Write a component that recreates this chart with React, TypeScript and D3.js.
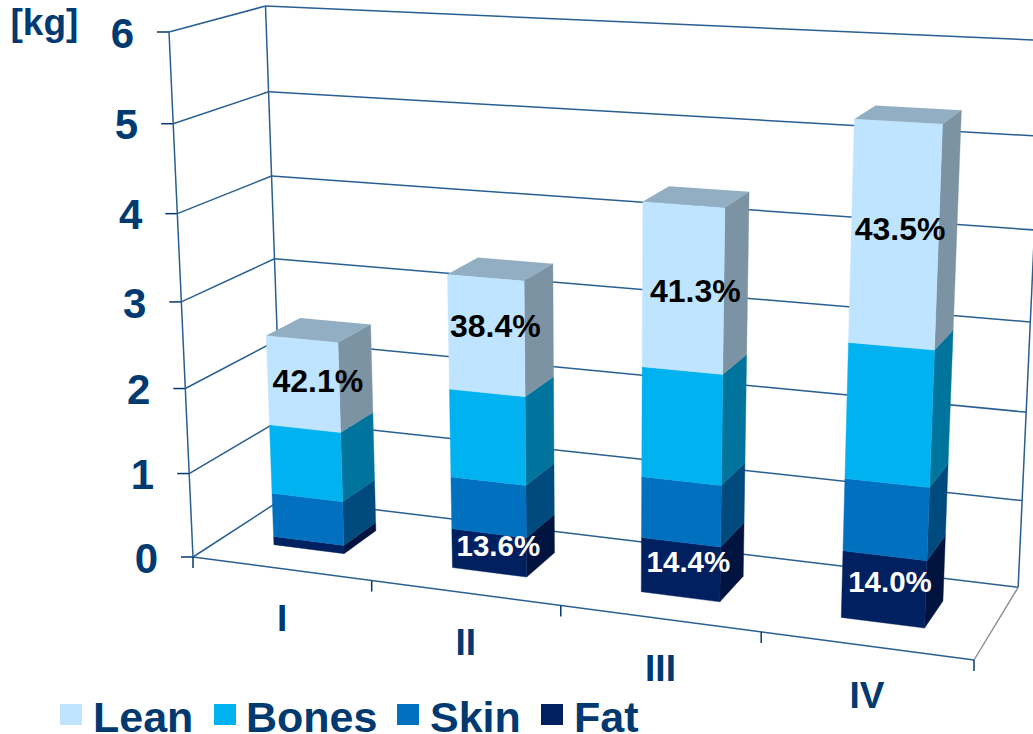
import React from "react";
import * as d3 from "d3";

const categories = ["I", "II", "III", "IV"];
const totalKg = [2.5, 3.39, 4.35, 5.35];
const leanShare = [42.1, 38.4, 41.3, 43.5];
const bonesShare = [32.9, 30.0, 28.3, 27.5];
const skinShare = [21.0, 18.0, 16.0, 15.0];
const fatShare = [4.0, 13.6, 14.4, 14.0];
const valueTicks = [0, 1, 2, 3, 4, 5, 6];
const seriesNames = ["Lean", "Bones", "Skin", "Fat"];

// Stacked from the floor up: fat, skin, bones, lean.
const stackOrder = [
  { name: "Fat", share: fatShare, front: "#002060", side: "#00143f" },
  { name: "Skin", share: skinShare, front: "#0070bf", side: "#004a7e" },
  { name: "Bones", share: bonesShare, front: "#00b2f0", side: "#00749d" },
  { name: "Lean", share: leanShare, front: "#bfe4ff", side: "#7b93a3" },
];
const topFace = "#92aec2";
const legendColors: Record<string, string> = {
  Lean: "#bfe4ff",
  Bones: "#00b2f0",
  Skin: "#0070bf",
  Fat: "#002060",
};

const INK = "#003a70";
const GRID = "#2a5f92";
const FONT = "'Liberation Sans', Arial, sans-serif";

// Box corners on screen and the foreshortening along each box axis.
const origin = [193, 557];
const xEnd = [974, 660];
const yEnd = [169, 32];
const zEnd = [283, 498.5];
const alpha = 0.89;
const beta = 0.945;
const gamma = 1.069;

const xUnit = d3.scaleLinear().domain([0, categories.length]).range([0, 1]);
const yUnit = d3.scaleLinear().domain([0, 6]).range([0, 1]);

type Pt = [number, number];

// Perspective projection of (category position, kg, depth 0..1) to the screen.
function project(cat: number, kg: number, depth: number): Pt {
  const X = xUnit(cat);
  const Y = yUnit(kg);
  const Z = depth;
  const w = (alpha - 1) * X + (beta - 1) * Y + (gamma - 1) * Z + 1;
  const axis = (i: number) =>
    (alpha * xEnd[i] - origin[i]) * X +
    (beta * yEnd[i] - origin[i]) * Y +
    (gamma * zEnd[i] - origin[i]) * Z +
    origin[i];
  return [axis(0) / w, axis(1) / w];
}

const lineGen = d3.line<Pt>();
const poly = (pts: Pt[]) => lineGen(pts) + "Z";

const BAR_INSET = 0.3;
const DEPTH_NEAR = 0.31;
const DEPTH_FAR = 0.69;
const NCATS = categories.length;

function Bars() {
  return (
    <g>
      {categories.map((cat, i) => {
        const x0 = i + BAR_INSET;
        const x1 = i + 1 - BAR_INSET;
        let base = 0;
        const segs = stackOrder.map((s) => {
          const kg = (totalKg[i] * s.share[i]) / 100;
          const seg = { ...s, y0: base, y1: base + kg };
          base += kg;
          return seg;
        });
        return (
          <g key={cat}>
            {segs.map((s) => (
              <g key={s.name}>
                <path
                  d={poly([
                    project(x1, s.y0, DEPTH_NEAR),
                    project(x1, s.y0, DEPTH_FAR),
                    project(x1, s.y1, DEPTH_FAR),
                    project(x1, s.y1, DEPTH_NEAR),
                  ])}
                  fill={s.side}
                  stroke={s.side}
                  strokeWidth={0.4}
                />
                <path
                  d={poly([
                    project(x0, s.y0, DEPTH_NEAR),
                    project(x1, s.y0, DEPTH_NEAR),
                    project(x1, s.y1, DEPTH_NEAR),
                    project(x0, s.y1, DEPTH_NEAR),
                  ])}
                  fill={s.front}
                  stroke={s.front}
                  strokeWidth={0.4}
                />
              </g>
            ))}
            <path
              d={poly([
                project(x0, base, DEPTH_NEAR),
                project(x1, base, DEPTH_NEAR),
                project(x1, base, DEPTH_FAR),
                project(x0, base, DEPTH_FAR),
              ])}
              fill={topFace}
            />
          </g>
        );
      })}
    </g>
  );
}

// Small per-bar shifts that keep each lean label clear of the bar's edges.
const leanNudge: Pt[] = [
  [2, 4],
  [-2, -3],
  [3, 9],
  [-2, 0],
];

// Percentage labels sit near the centre of the segment they describe.
function ShareLabels() {
  const labels: { key: string; pt: Pt; text: string; fill: string; size: number }[] = [];
  categories.forEach((cat, i) => {
    const fat = (totalKg[i] * fatShare[i]) / 100;
    const lean = (totalKg[i] * leanShare[i]) / 100;
    const cx = i + 0.5;
    const p = project(cx, totalKg[i] - lean / 2, 0.45);
    labels.push({
      key: cat + "lean",
      pt: [p[0] + leanNudge[i][0], p[1] + leanNudge[i][1]],
      text: leanShare[i].toFixed(1) + "%",
      fill: "#000000",
      size: 32,
    });
    if (i > 0) {
      labels.push({
        key: cat + "fat",
        pt: project(cx, fat / 2, 0.43),
        text: fatShare[i].toFixed(1) + "%",
        fill: "#ffffff",
        size: 29.5,
      });
    }
  });
  return (
    <g fontFamily={FONT} fontWeight="bold" textAnchor="middle">
      {labels.map((l) => (
        <text key={l.key} x={l.pt[0]} y={l.pt[1]} dy="0.36em" fontSize={l.size} fill={l.fill}>
          {l.text}
        </text>
      ))}
    </g>
  );
}

function Frame() {
  const seg = (a: Pt, b: Pt, key: string, color = GRID, w = 1.5) => (
    <line key={key} x1={a[0]} y1={a[1]} x2={b[0]} y2={b[1]} stroke={color} strokeWidth={w} />
  );
  return (
    <g fill="none">
      {valueTicks.map((v) => {
        const front = project(0, v, 0);
        const back = project(0, v, 1);
        const right = project(NCATS, v, 1);
        return (
          <g key={v}>
            {seg(front, back, `wall${v}`)}
            {seg(back, right, `back${v}`)}
            {seg([front[0] - 12, front[1]], front, `tick${v}`, INK, 1.5)}
          </g>
        );
      })}
      {seg(project(0, 0, 0), project(0, 6, 0), "leftFront")}
      {seg(project(0, 0, 1), project(0, 6, 1), "leftBack")}
      {seg(project(NCATS, 0, 1), project(NCATS, 6, 1), "rightBack")}
      {seg(project(NCATS, 0, 0), project(NCATS, 0, 1), "floorRight", "#8c8c8c", 1.4)}
      {seg(project(0, 0, 0), project(NCATS, 0, 0), "floorFront")}
      {d3.range(0, NCATS + 1).map((c) => {
        const p = project(c, 0, 0);
        return seg(p, [p[0], p[1] + 11], `xtick${c}`, INK, 1.5);
      })}
    </g>
  );
}

function AxisLabels() {
  return (
    <g fontFamily={FONT} fontWeight="bold" fill={INK}>
      {valueTicks.map((v) => {
        const p = project(0, v, 0);
        return (
          <text key={v} x={p[0] - 35} y={p[1] + 0.5} dy="0.36em" fontSize={42} textAnchor="end">
            {v}
          </text>
        );
      })}
      {categories.map((c, i) => {
        const p = project(i + 0.5, 0, 0);
        return (
          <text key={c} x={p[0] + 1} y={p[1] + 49} dy="0.36em" fontSize={37} textAnchor="middle">
            {c}
          </text>
        );
      })}
      <text x={10.5} y={35} fontSize={37}>
        [kg]
      </text>
    </g>
  );
}

const legendSwatchX = d3.scaleOrdinal<string, number>().domain(seriesNames).range([60, 214, 397, 541]);
const legendTextX = d3.scaleOrdinal<string, number>().domain(seriesNames).range([93, 246, 430, 574]);

function Legend() {
  return (
    <g fontFamily={FONT} fontWeight="bold" fill={INK} fontSize={43}>
      {seriesNames.map((n) => (
        <g key={n}>
          <rect x={legendSwatchX(n)} y={704} width={22} height={21} fill={legendColors[n]} />
          <text x={legendTextX(n)} y={732}>
            {n}
          </text>
        </g>
      ))}
    </g>
  );
}

export default function App() {
  return (
    <svg
      width={1033}
      height={734}
      viewBox="0 0 1033 734"
      style={{ position: "absolute", left: 0, top: 0, display: "block", background: "#fff" }}
    >
      <Frame />
      <Bars />
      <ShareLabels />
      <AxisLabels />
      <Legend />
    </svg>
  );
}
